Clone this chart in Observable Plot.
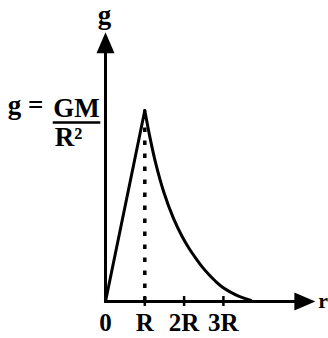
<!DOCTYPE html>
<html><head><meta charset="utf-8">
<script src="https://cdn.jsdelivr.net/npm/d3@7"></script>
<script src="https://cdn.jsdelivr.net/npm/@observablehq/plot@0.6"></script>
<style>html,body{margin:0;padding:0;background:#fff}svg{display:block}</style>
</head><body><div id="chart"></div>
<script>
// Rising part (inside the planet): g grows linearly with r
const riseR = [0, 1];
const riseG = [0, 1];
// Falling part (outside): g ~ 1/r^2 as sketched
const decayR = [1, 1.14, 1.27, 1.48, 1.73, 1.95, 2.12, 2.29, 2.46, 2.63, 2.8, 2.97, 3.18, 3.4, 3.7];
const decayG = [1, 0.85, 0.73, 0.575, 0.435, 0.34, 0.28, 0.228, 0.181, 0.141, 0.106, 0.076, 0.049, 0.027, 0.006];
// Tick values and labels on the r axis (in units of R)
const tickValues = [0, 1, 2, 3];
const tickLabels = ["0", "R", "2R", "3R"];
// Axis extents (arrow tips) in data units
const axisEndR = 5.34;
const axisEndG = 1.41;
const peakR = 1;
const peakG = 1;

const rise = riseR.map((r, i) => ({r, g: riseG[i]}));
const decay = decayR.map((r, i) => ({r, g: decayG[i]}));

const arrowHead = {
  draw(ctx) {
    ctx.moveTo(0, 0);
    ctx.lineTo(-9, 21);
    ctx.lineTo(9, 21);
    ctx.closePath();
  }
};

const font = "'Liberation Serif', 'Times New Roman', serif";

const chart = Plot.plot({
  width: 328,
  height: 338,
  margin: 0,
  x: {domain: [0, 1], range: [105, 144.3], axis: null},
  y: {domain: [0, 1], range: [301, 110], axis: null},
  style: {fontFamily: font, background: "white", color: "black"},
  marks: [
    // axes
    Plot.line([[0, 0], [0, axisEndG - 0.05]], {stroke: "black", strokeWidth: 3}),
    Plot.line([[0, 0], [axisEndR - 0.25, 0]], {stroke: "black", strokeWidth: 3}),
    Plot.dot([[0, axisEndG]], {symbol: arrowHead, fill: "black", stroke: "none"}),
    Plot.dot([[axisEndR, 0]], {symbol: arrowHead, fill: "black", stroke: "none", rotate: 90}),
    // ticks
    Plot.ruleX(tickValues.slice(1), {y1: -0.026, y2: 0.026, stroke: "black", strokeWidth: 2.5}),
    // dotted drop line at the peak
    Plot.ruleX([peakR], {y1: 0, y2: peakG - 0.04, stroke: "black", strokeWidth: 3.5, strokeDasharray: "4.5,8.5"}),
    // curve
    Plot.line(rise, {x: "r", y: "g", stroke: "black", strokeWidth: 3}),
    Plot.line(decay, {x: "r", y: "g", stroke: "black", strokeWidth: 3, curve: "catmull-rom"}),
    // tick labels
    Plot.text(tickValues, {x: d => d, y: 0, text: (d, i) => tickLabels[i], dy: 21, fontSize: 25, fontWeight: "bold"}),
    // axis titles
    Plot.text([0], {x: 0, y: axisEndG, text: () => "g", dy: -17, dx: -1, fontSize: 27, fontWeight: "bold"}),
    Plot.text([axisEndR], {x: d => d, y: 0, text: () => "r", textAnchor: "start", dx: 3, dy: -1, fontSize: 22, fontWeight: "bold"}),
    // peak annotation g = GM / R²
    Plot.text([0], {x: 0, y: peakG, text: () => "g =", textAnchor: "end", dx: -62, dy: -5, fontSize: 27, fontWeight: "bold"}),
    Plot.text([0], {x: 0, y: peakG, text: () => "GM", dx: -29, dy: -2, fontSize: 27, fontWeight: "bold"}),
    Plot.ruleY([peakG], {x1: -1.33, x2: -0.12, dy: 12, stroke: "black", strokeWidth: 2.5}),
    Plot.text([0], {x: 0, y: peakG, text: () => "R²", dx: -37, dy: 27, fontSize: 27, fontWeight: "bold"})
  ]
});
document.getElementById("chart").appendChild(chart);
</script>
</body></html>
